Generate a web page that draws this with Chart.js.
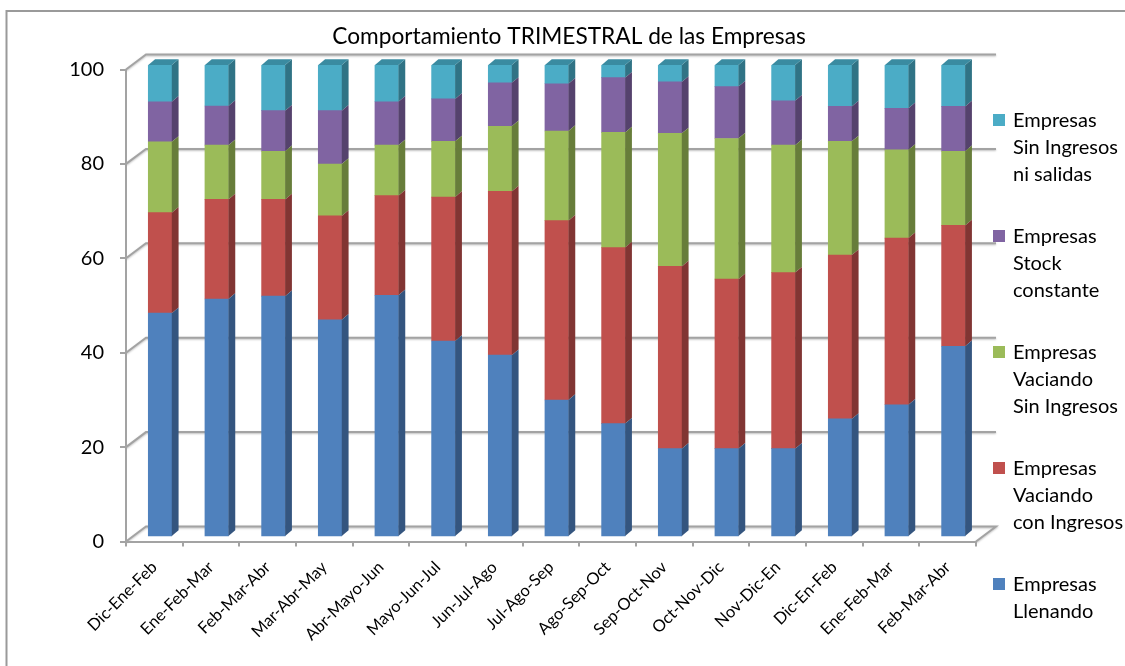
<!DOCTYPE html>
<html>
<head>
<meta charset="utf-8">
<style>
  html, body { margin: 0; padding: 0; background: #fff; overflow: hidden; }
  canvas { display: block; }
</style>
<script src="https://cdn.jsdelivr.net/npm/chart.js@4/dist/chart.umd.js"></script>
</head>
<body>
<canvas id="chart" width="1125" height="666"></canvas>
<script>
const categories = ["Dic-Ene-Feb", "Ene-Feb-Mar", "Feb-Mar-Abr", "Mar-Abr-May", "Abr-Mayo-Jun", "Mayo-Jun-Jul", "Jun-Jul-Ago", "Jul-Ago-Sep", "Ago-Sep-Oct", "Sep-Oct-Nov", "Oct-Nov-Dic", "Nov-Dic-En", "Dic-En-Feb", "Ene-Feb-Mar", "Feb-Mar-Abr"];

const llenando = [47.4, 50.4, 51, 46, 51.2, 41.5, 38.5, 29, 24, 18.7, 18.7, 18.7, 25, 28, 40.4];
const vaciandoCon = [21.3, 21.1, 20.5, 22, 21.1, 30.5, 34.7, 38, 37.3, 38.6, 35.9, 37.3, 34.7, 35.3, 25.6];
const vaciandoSin = [15, 11.5, 10.2, 11, 10.7, 11.8, 13.8, 19, 24.4, 28.2, 29.8, 27, 24.1, 18.7, 15.7];
const stockConstante = [8.5, 8.3, 8.6, 11.3, 9.2, 9, 9.2, 10, 11.6, 10.9, 11, 9.4, 7.4, 8.8, 9.5];
const sinIngresos = [7.8, 8.7, 9.7, 9.7, 7.8, 7.2, 3.8, 4, 2.7, 3.6, 4.6, 7.6, 8.8, 9.2, 8.8];

const yTicks = [0, 20, 40, 60, 80, 100];
const chartTitle = "Comportamiento TRIMESTRAL de las Empresas";

const FONT = "Lato, Carlito, sans-serif";
const GRID = "#a3a3a3";

// profundidad de la pared del fondo y de las barras
const WALL_DX = 20, WALL_DY = -15;
const BAR_SHIFT_X = 5.7, BAR_SHIFT_Y = -4.6;
const BAR_DX = 6.8, BAR_DY = -5.7;

// lineas de la leyenda, de arriba a abajo
const legendRows = [
  { idx: 4, y: 121, lines: ["Empresas", "Sin Ingresos", "ni salidas"] },
  { idx: 3, y: 237, lines: ["Empresas", "Stock", "constante"] },
  { idx: 2, y: 353, lines: ["Empresas", "Vaciando", "Sin Ingresos"] },
  { idx: 1, y: 469, lines: ["Empresas", "Vaciando", "con Ingresos"] },
  { idx: 0, y: 585, lines: ["Empresas", "Llenando"] },
];

const sideColors = ["#34557f", "#813533", "#677d3a", "#55426d", "#307385"];
const topColor = "#3a8ba1";

const wallPlugin = {
  id: "wall",
  beforeDraw(chart) {
    const { ctx, chartArea: a, scales: { y } } = chart;
    ctx.save();
    // marco
    ctx.strokeStyle = "#9a9a9a";
    ctx.lineWidth = 2;
    ctx.beginPath();
    ctx.moveTo(6.5, 666);
    ctx.lineTo(6.5, 11);
    ctx.lineTo(1125, 11);
    ctx.stroke();

    // pared y piso
    ctx.strokeStyle = GRID;
    ctx.lineWidth = 2;
    ctx.shadowColor = "rgba(0,0,0,0.25)";
    ctx.shadowBlur = 2;
    ctx.shadowOffsetY = 1;
    yTicks.forEach((t) => {
      const py = y.getPixelForValue(t);
      ctx.beginPath();
      ctx.moveTo(a.left, py);
      ctx.lineTo(a.left + WALL_DX, py + WALL_DY);
      ctx.lineTo(a.right + WALL_DX, py + WALL_DY);
      if (t === 0) ctx.lineTo(a.right, py);
      ctx.stroke();
    });
    ctx.restore();
  },
  beforeDatasetsDraw(chart) {
    chart.ctx.save();
    chart.ctx.translate(BAR_SHIFT_X, BAR_SHIFT_Y);
  },
  afterDatasetDraw(chart, args) {
    const { ctx } = chart;
    const last = chart.data.datasets.length - 1;
    args.meta.data.forEach((bar) => {
      const right = bar.x + bar.width / 2;
      const left = bar.x - bar.width / 2;
      ctx.fillStyle = sideColors[args.index];
      ctx.beginPath();
      ctx.moveTo(right, bar.y);
      ctx.lineTo(right + BAR_DX, bar.y + BAR_DY);
      ctx.lineTo(right + BAR_DX, bar.base + BAR_DY);
      ctx.lineTo(right, bar.base);
      ctx.closePath();
      ctx.fill();
      if (args.index === last) {
        ctx.fillStyle = topColor;
        ctx.beginPath();
        ctx.moveTo(left, bar.y);
        ctx.lineTo(left + BAR_DX, bar.y + BAR_DY);
        ctx.lineTo(right + BAR_DX, bar.y + BAR_DY);
        ctx.lineTo(right, bar.y);
        ctx.closePath();
        ctx.fill();
      }
    });
  },
  afterDatasetsDraw(chart) {
    chart.ctx.restore();
  },
  afterDraw(chart) {
    const { ctx } = chart;
    ctx.save();
    ctx.fillStyle = "#000";
    ctx.textAlign = "center";
    ctx.textBaseline = "middle";
    ctx.font = "22.7px " + FONT;
    ctx.fillText(chartTitle, 569, 37);

    ctx.textAlign = "left";
    ctx.font = "20px " + FONT;
    legendRows.forEach((row) => {
      ctx.fillStyle = chart.data.datasets[row.idx].backgroundColor;
      ctx.fillRect(993, row.y - 7, 12, 12);
      ctx.fillStyle = "#000";
      row.lines.forEach((line, i) => ctx.fillText(line, 1013, row.y + i * 27));
    });
    ctx.restore();
  },
};

new Chart(document.getElementById("chart"), {
  type: "bar",
  data: {
    labels: categories,
    datasets: [
      { label: "Empresas Llenando", data: llenando, backgroundColor: "#4f81bd" },
      { label: "Empresas Vaciando con Ingresos", data: vaciandoCon, backgroundColor: "#c0504d" },
      { label: "Empresas Vaciando Sin Ingresos", data: vaciandoSin, backgroundColor: "#9bbb59" },
      { label: "Empresas Stock constante", data: stockConstante, backgroundColor: "#8064a2" },
      { label: "Empresas Sin Ingresos ni salidas", data: sinIngresos, backgroundColor: "#4bacc6" },
    ],
  },
  options: {
    responsive: false,
    animation: false,
    devicePixelRatio: 1,
    layout: { padding: { left: 20, top: 69.5, right: 149, bottom: 0 } },
    datasets: { bar: { barThickness: 23.5 } },
    plugins: { legend: { display: false }, title: { display: false }, tooltip: { enabled: false } },
    scales: {
      x: {
        stacked: true,
        afterFit: (s) => { s.height = 124.5; },
        grid: { drawOnChartArea: false, tickLength: 5, color: GRID, lineWidth: 2 },
        border: { color: GRID, width: 2 },
        ticks: { color: "#000", font: { family: FONT, size: 16.5 }, minRotation: 45, maxRotation: 45, autoSkip: false, padding: 11 },
      },
      y: {
        stacked: true,
        min: 0,
        max: 100,
        afterFit: (s) => { s.width = 106; },
        afterBuildTicks: (s) => { s.ticks = yTicks.map((value) => ({ value })); },
        grid: { drawOnChartArea: false, tickLength: 6, color: GRID, lineWidth: 2 },
        border: { color: GRID, width: 2 },
        ticks: { color: "#000", font: { family: FONT, size: 20 }, padding: 16 },
      },
    },
  },
  plugins: [wallPlugin],
});
</script>
</body>
</html>
